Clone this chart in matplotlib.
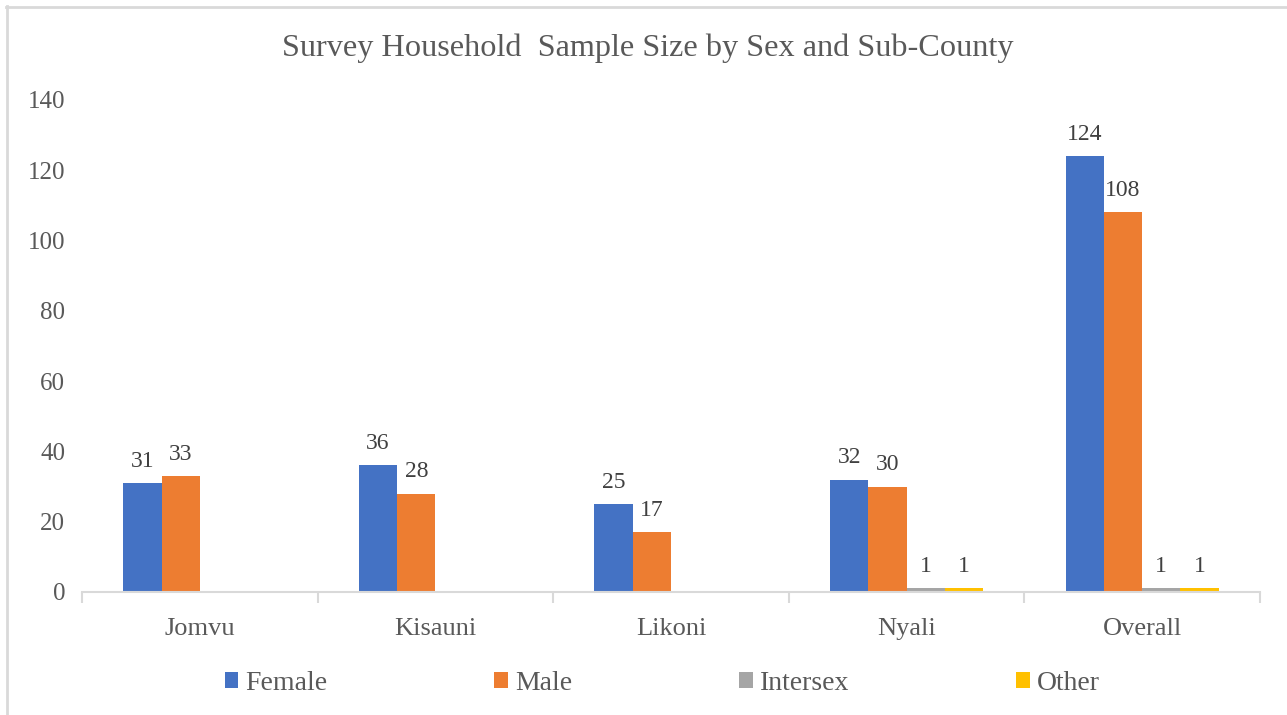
import matplotlib
matplotlib.use("Agg")
import matplotlib.pyplot as plt
import numpy as np
from matplotlib.lines import Line2D

categories = ["Jomvu", "Kisauni", "Likoni", "Nyali", "Overall"]
series_names = ["Female", "Male", "Intersex", "Other"]
female = [31, 36, 25, 32, 124]
male = [33, 28, 17, 30, 108]
intersex = [0, 0, 0, 1, 1]
other = [0, 0, 0, 1, 1]
colors = ["#4472C4", "#ED7D31", "#A5A5A5", "#FFC000"]
yticks = [0, 20, 40, 60, 80, 100, 120, 140]

plt.rcParams['font.family'] = ['Liberation Serif', 'DejaVu Serif']
txt = "#595959"

fig = plt.figure(figsize=(12.87, 7.15), dpi=100)
ax = fig.add_axes([82/1287, 1-592/715, (1260-82)/1287, (592-100)/715])

x = np.arange(len(categories))
w = 0.1625
data = [female, male, intersex, other]
for i, (vals, c, name) in enumerate(zip(data, colors, series_names)):
    pos = x + (i - 1.5) * w
    bars = ax.bar(pos, vals, width=w, color=c, label=name, zorder=2)
    for xp, v in zip(pos, vals):
        if v > 0:
            ax.annotate(str(v), (xp, v), xytext=(0, 8), textcoords="offset points",
                        ha="center", va="bottom", fontsize=17, color="#404040")

ax.set_xlim(-0.5, len(categories) - 0.5)
ax.set_ylim(0, 140)
ax.set_yticks(yticks)
ax.set_yticklabels([str(t) for t in yticks], fontsize=18, color=txt)
ax.tick_params(axis='y', length=0, pad=12)
ax.set_xticks(x)
ax.set_xticklabels(categories, fontsize=19, color=txt)
ax.tick_params(axis='x', which='major', length=0, pad=19)
ax.set_xticks(np.arange(-0.5, len(categories), 1.0), minor=True)
ax.tick_params(axis='x', which='minor', length=8, width=1.5, color="#d9d9d9")
for s in ["top", "right", "left"]:
    ax.spines[s].set_visible(False)
ax.spines["bottom"].set_color("#d9d9d9")
ax.spines["bottom"].set_linewidth(1.5)
ax.spines["bottom"].set_zorder(3)

fig.text(0.5 * (283 + 1012) / 1287, 1 - 48/715, "Survey Household  Sample Size by Sex and Sub-County",
         ha="center", va="center", fontsize=23.2, color=txt)

leg = fig.legend(loc="center", bbox_to_anchor=(662/1287, 1 - 683/715), ncol=4, frameon=False,
                 fontsize=20, handlelength=0.5, handleheight=0.5, handletextpad=0.25,
                 columnspacing=6.0, labelcolor=txt)

# partial border (top and left) like the screenshot
fig.add_artist(Line2D([6/1287, 1], [1 - 6.5/715, 1 - 6.5/715], color="#d9d9d9", lw=2, transform=fig.transFigure))
fig.add_artist(Line2D([6.5/1287, 6.5/1287], [0, 1 - 6/715], color="#d9d9d9", lw=2, transform=fig.transFigure))

fig.savefig("out.png", dpi=100)
